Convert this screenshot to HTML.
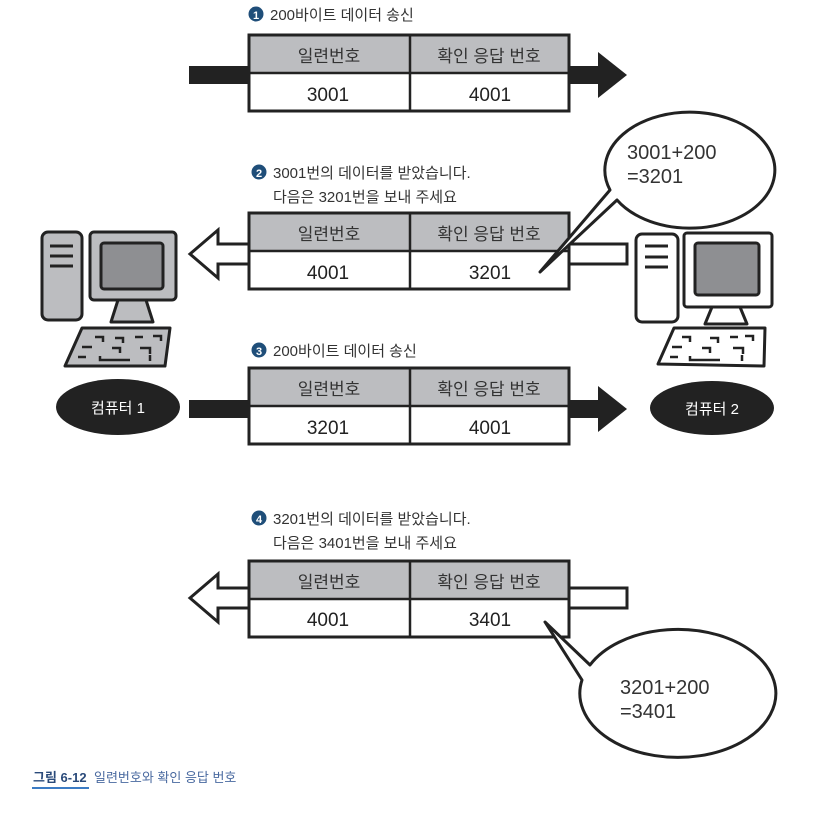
<!DOCTYPE html>
<html><head><meta charset="utf-8"><style>
body{margin:0;background:#fff;width:818px;height:817px;overflow:hidden}
svg text{font-family:"Liberation Sans","Noto Sans CJK KR",sans-serif}
</style></head><body>
<svg width="818" height="817" viewBox="0 0 818 817" xmlns="http://www.w3.org/2000/svg">
<defs>
<g id="tbl">
<rect x="0" y="0" width="320" height="76" fill="#fff" stroke="#222" stroke-width="3"/>
<rect x="1.5" y="1.5" width="317" height="37" fill="#bcbdc0"/>
<line x1="0" y1="38" x2="320" y2="38" stroke="#222" stroke-width="2.5"/>
<line x1="161" y1="0" x2="161" y2="76" stroke="#222" stroke-width="2.5"/>
<text x="80" y="27" font-size="17" text-anchor="middle" fill="#333">일련번호</text>
<text x="240" y="27" font-size="17" text-anchor="middle" fill="#333">확인 응답 번호</text>
</g>
</defs>
<g font-size="15" fill="#333">
<circle cx="256" cy="14" r="7.5" fill="#1f4e79"/><text x="256" y="19" font-size="11" fill="#fff" text-anchor="middle" font-weight="bold">1</text>
<text x="270" y="20">200바이트 데이터 송신</text>
<circle cx="259" cy="172" r="7.5" fill="#1f4e79"/><text x="259" y="177" font-size="11" fill="#fff" text-anchor="middle" font-weight="bold">2</text>
<text x="273" y="178">3001번의 데이터를 받았습니다.</text>
<text x="273" y="202">다음은 3201번을 보내 주세요</text>
<circle cx="259" cy="350" r="7.5" fill="#1f4e79"/><text x="259" y="355" font-size="11" fill="#fff" text-anchor="middle" font-weight="bold">3</text>
<text x="273" y="356">200바이트 데이터 송신</text>
<circle cx="259" cy="518" r="7.5" fill="#1f4e79"/><text x="259" y="523" font-size="11" fill="#fff" text-anchor="middle" font-weight="bold">4</text>
<text x="273" y="524">3201번의 데이터를 받았습니다.</text>
<text x="273" y="548">다음은 3401번을 보내 주세요</text>
</g>
<!-- arrow 1 -->
<rect x="189" y="66" width="415" height="18" fill="#222"/>
<polygon points="598,52 627,75 598,98" fill="#222"/>
<use href="#tbl" x="249" y="35"/>
<text x="328" y="101" font-size="19" text-anchor="middle" fill="#222">3001</text>
<text x="490" y="101" font-size="19" text-anchor="middle" fill="#222">4001</text>
<!-- arrow 2 -->
<polygon points="190,254 218,230 218,244 627,244 627,264 218,264 218,278" fill="#fff" stroke="#222" stroke-width="3"/>
<use href="#tbl" x="249" y="213"/>
<text x="328" y="279" font-size="19" text-anchor="middle" fill="#222">4001</text>
<text x="490" y="279" font-size="19" text-anchor="middle" fill="#222">3201</text>
<!-- arrow 3 -->
<rect x="189" y="400" width="415" height="18" fill="#222"/>
<polygon points="598,386 627,409 598,432" fill="#222"/>
<use href="#tbl" x="249" y="368"/>
<text x="328" y="434" font-size="19" text-anchor="middle" fill="#222">3201</text>
<text x="490" y="434" font-size="19" text-anchor="middle" fill="#222">4001</text>
<!-- arrow 4 -->
<polygon points="190,598 218,574 218,588 627,588 627,608 218,608 218,622" fill="#fff" stroke="#222" stroke-width="3"/>
<use href="#tbl" x="249" y="561"/>
<text x="328" y="626" font-size="19" text-anchor="middle" fill="#222">4001</text>
<text x="490" y="626" font-size="19" text-anchor="middle" fill="#222">3401</text>
<!-- bubble 1 -->
<path d="M610,190 A85,58 0 1 1 617,200 L540,272 Z" fill="#fff" stroke="#222" stroke-width="3" stroke-linejoin="round"/>
<text x="627" y="159" font-size="20" fill="#333">3001+200</text>
<text x="627" y="183" font-size="20" fill="#333">=3201</text>
<!-- bubble 2 -->
<path d="M590,665 A98,64 0 1 1 582,680 L545,622 Z" fill="#fff" stroke="#222" stroke-width="3" stroke-linejoin="round"/>
<text x="620" y="694" font-size="20" fill="#333">3201+200</text>
<text x="620" y="718" font-size="20" fill="#333">=3401</text>
<!-- computer 1 -->
<g stroke="#222" stroke-width="3" fill="#bcbdc0" stroke-linejoin="round">
<rect x="42" y="232" width="40" height="88" rx="6"/>
<line x1="50" y1="246" x2="73" y2="246"/><line x1="50" y1="256" x2="73" y2="256"/><line x1="50" y1="266" x2="73" y2="266"/>
<rect x="90" y="232" width="86" height="68" rx="4"/>
<rect x="101" y="243" width="62" height="46" fill="#8e8f92" rx="3"/>
<polygon points="118,300 146,300 153,322 111,322"/>
<polygon points="82,328 170,328 165,366 65,366"/>
</g>
<g stroke="#222" stroke-width="2.5" fill="none">
<path d="M95,337 h8 v5 M115,338 h8 v5 M135,337 h8 M153,336 h8 v5 M82,347 h10 M112,348 h8 v5 M140,348 h10 v6 M78,357 h8 M100,356 v4 h30 M150,355 v6"/>
</g>
<ellipse cx="118" cy="407" rx="62" ry="28" fill="#222"/>
<text x="118" y="413" font-size="15" fill="#fff" text-anchor="middle">컴퓨터 1</text>
<!-- computer 2 -->
<g stroke="#222" stroke-width="3" fill="#fff" stroke-linejoin="round">
<rect x="636" y="234" width="42" height="88" rx="6"/>
<line x1="645" y1="246" x2="668" y2="246"/><line x1="645" y1="257" x2="668" y2="257"/><line x1="645" y1="267" x2="668" y2="267"/>
<rect x="684" y="233" width="88" height="74" rx="3"/>
<rect x="695" y="243" width="64" height="52" fill="#8e8f92" rx="3"/>
<polygon points="712,307 740,307 747,324 705,324"/>
<polygon points="674,328 765,328 764,366 658,364"/>
</g>
<g stroke="#222" stroke-width="2.5" fill="none">
<path d="M682,337 h8 v5 M710,338 h8 v5 M730,337 h8 M745,336 h8 v5 M672,347 h10 M702,348 h8 v5 M733,348 h10 v6 M670,357 h8 M690,356 v4 h30 M742,355 v6"/>
</g>
<ellipse cx="712" cy="408" rx="62" ry="27" fill="#222"/>
<text x="712" y="414" font-size="15" fill="#fff" text-anchor="middle">컴퓨터 2</text>
<!-- caption -->
<text x="33" y="782" font-size="13" fill="#2a4a7a" font-weight="bold">그림 6-12</text>
<text x="94" y="782" font-size="13" fill="#4a6aa0">일련번호와 확인 응답 번호</text>
<rect x="32" y="787" width="57" height="2" fill="#3b7bc4"/>
</svg>
</body></html>
